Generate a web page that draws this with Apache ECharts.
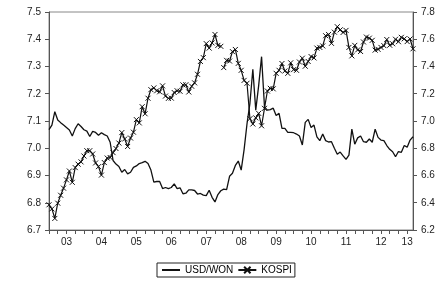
<!DOCTYPE html>
<html>
<head>
<meta charset="utf-8">
<script src="https://cdn.jsdelivr.net/npm/echarts@6/dist/echarts.min.js"></script>
<style>
  html, body { margin: 0; padding: 0; background: #fff; }
  #chart { width: 440px; height: 282px; }
</style>
</head>
<body>
<div id="chart"></div>
<script>
// monthly, 2003M1 .. 2013M6 (end of month, log levels)
var startYear = 2003;
var nMonths = 126;
var yearLabels = ['03', '04', '05', '06', '07', '08', '09', '10', '11', '12', '13'];

// left axis: ln(USD/WON)
var usdwon = [
  7.068, 7.085, 7.134, 7.104, 7.094, 7.085, 7.076, 7.067, 7.045, 7.072, 7.090, 7.080,
  7.068, 7.063, 7.043, 7.062, 7.058, 7.048, 7.057, 7.050, 7.045, 7.022, 6.955, 6.942,
  6.933, 6.912, 6.922, 6.906, 6.912, 6.930, 6.935, 6.944, 6.947, 6.952, 6.944, 6.920,
  6.876, 6.878, 6.878, 6.852, 6.856, 6.852, 6.856, 6.869, 6.852, 6.855, 6.833, 6.835,
  6.847, 6.847, 6.845, 6.832, 6.834, 6.828, 6.826, 6.846, 6.820, 6.803, 6.830, 6.844,
  6.850, 6.848, 6.897, 6.908, 6.937, 6.953, 6.920, 6.995, 7.090, 7.165, 7.290, 7.140,
  7.230, 7.336, 7.152, 7.140, 7.142, 7.147, 7.120, 7.128, 7.073, 7.073, 7.058, 7.058,
  7.057, 7.052, 7.045, 7.012, 7.095, 7.106, 7.076, 7.085, 7.042, 7.028, 7.052, 7.028,
  7.023, 7.024, 7.000, 6.978, 6.986, 6.972, 6.959, 6.975, 7.070, 7.015, 7.038, 7.045,
  7.024, 7.022, 7.034, 7.022, 7.070, 7.040, 7.030, 7.028, 7.010, 6.996, 6.987, 6.969,
  6.988, 6.985, 7.010, 7.004, 7.030, 7.042
];

// right axis: ln(KOSPI)
var kospi = [
  6.385, 6.355, 6.285, 6.397, 6.455, 6.507, 6.568, 6.633, 6.550, 6.658, 6.683, 6.700,
  6.743, 6.782, 6.782, 6.758, 6.692, 6.665, 6.603, 6.695, 6.728, 6.732, 6.768, 6.798,
  6.838, 6.915, 6.868, 6.813, 6.875, 6.918, 7.010, 6.986, 7.105, 7.053, 7.167, 7.230,
  7.243, 7.222, 7.214, 7.258, 7.183, 7.166, 7.168, 7.209, 7.222, 7.218, 7.265, 7.266,
  7.213, 7.255, 7.280, 7.343, 7.437, 7.465, 7.568, 7.535, 7.573, 7.635, 7.555, 7.548,
  7.392, 7.445, 7.440, 7.509, 7.525, 7.423, 7.372, 7.298, 7.277, 7.017, 6.978, 7.023,
  7.056, 6.965, 7.093, 7.220, 7.240, 7.236, 7.350, 7.372, 7.422, 7.367, 7.350, 7.427,
  7.377, 7.372, 7.433, 7.461, 7.402, 7.437, 7.473, 7.463, 7.535, 7.540, 7.551, 7.626,
  7.635, 7.570, 7.652, 7.692, 7.669, 7.650, 7.665, 7.540, 7.478, 7.555, 7.522, 7.510,
  7.580, 7.616, 7.608, 7.592, 7.520, 7.526, 7.540, 7.553, 7.598, 7.556, 7.567, 7.600,
  7.582, 7.614, 7.603, 7.583, 7.602, 7.530
];

// the KOSPI line is broken between 2007M12 and 2008M1
var kospiBreak = 60;

var months = [];
for (var i = 0; i < nMonths; i++) {
  var y = startYear + Math.floor(i / 12);
  var m = i % 12 + 1;
  months.push(y + '-' + (m < 10 ? '0' + m : m));
}

var kospiA = kospi.map(function (v, i) { return i < kospiBreak ? v : null; });
var kospiB = kospi.map(function (v, i) { return i >= kospiBreak ? v : null; });

function labelShown(i) {
  return i % 12 === 6 || i === 123;
}

var font = 'Liberation Sans, Arial, sans-serif';
var xMark = 'path://M0,0L10,10M10,0L0,10';

var kospiStyle = {
  type: 'line',
  name: 'KOSPI',
  yAxisIndex: 1,
  symbol: xMark,
  symbolSize: 5,
  showSymbol: true,
  showAllSymbol: true,
  lineStyle: {color: '#111', width: 1.2},
  itemStyle: {color: 'rgba(0,0,0,0)', borderColor: '#111', borderWidth: 1}
};

var options = {
  backgroundColor: '#fff',
  animation: false,
  textStyle: {fontFamily: font},
  grid: {
    left: 49, right: 27, top: 12, bottom: 52,
    show: true, borderColor: '#888', borderWidth: 1
  },
  legend: {
    data: [
      {name: 'USD/WON', itemStyle: {color: 'rgba(0,0,0,0)', borderWidth: 0}},
      {name: 'KOSPI'}
    ],
    left: 157, bottom: 5,
    borderColor: '#222', borderWidth: 1,
    padding: [2, 3, 2, 4],
    itemWidth: 18, itemHeight: 8, itemGap: 4,
    textStyle: {fontSize: 10, color: '#000', fontFamily: font}
  },
  xAxis: {
    type: 'category',
    data: months,
    boundaryGap: false,
    axisLine: {lineStyle: {color: '#555', width: 1}},
    axisTick: {
      length: 4, lineStyle: {color: '#555'},
      interval: function (i) { return i % 3 === 0; }
    },
    axisLabel: {
      interval: function (i) { return labelShown(i); },
      formatter: function (v) {
        return yearLabels[parseInt(v.slice(0, 4), 10) - startYear];
      },
      fontSize: 10, color: '#222', margin: 7, fontFamily: font
    },
    splitLine: {show: false}
  },
  yAxis: [
    {
      type: 'value', min: 6.7, max: 7.5, interval: 0.1,
      axisLine: {show: true, lineStyle: {color: '#555'}},
      axisTick: {show: true, length: 4, lineStyle: {color: '#555'}},
      axisLabel: {
        formatter: function (v) { return v.toFixed(1); },
        fontSize: 10, color: '#222', margin: 8, fontFamily: font
      },
      splitLine: {show: false}
    },
    {
      type: 'value', min: 6.2, max: 7.8, interval: 0.2,
      position: 'right',
      axisLine: {show: true, lineStyle: {color: '#555'}},
      axisTick: {show: true, length: 4, lineStyle: {color: '#555'}},
      axisLabel: {
        formatter: function (v) { return v.toFixed(1); },
        fontSize: 10, color: '#222', margin: 8, fontFamily: font
      },
      splitLine: {show: false}
    }
  ],
  series: [
    {
      type: 'line',
      name: 'USD/WON',
      data: usdwon,
      yAxisIndex: 0,
      symbol: 'none',
      lineStyle: {color: '#111', width: 1.3},
      itemStyle: {color: '#111'}
    },
    Object.assign({}, kospiStyle, {data: kospiA}),
    Object.assign({}, kospiStyle, {data: kospiB})
  ]
};

var myChart = echarts.init(document.getElementById('chart'));
myChart.setOption(options);
</script>
</body>
</html>
